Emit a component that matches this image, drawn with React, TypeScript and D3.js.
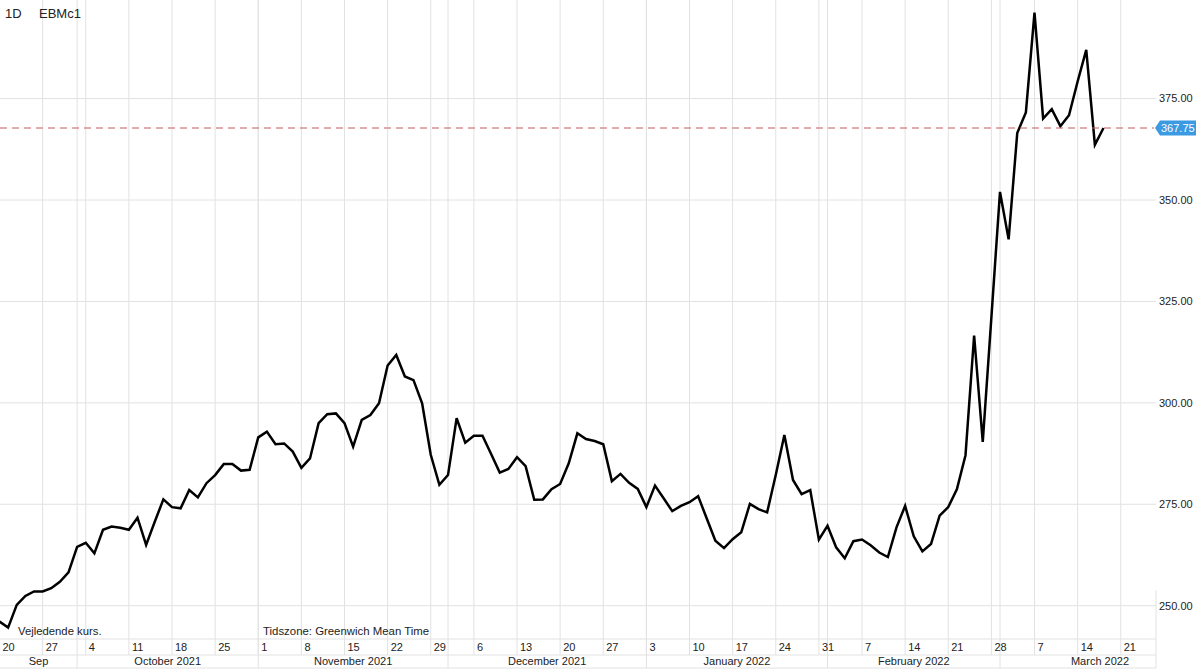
import React from "react";
import * as d3 from "d3";

// Trading-day index 0 = Mon 20 Sep 2021 (weekdays only)
const prices: number[] = [
  246.1, 244.6, 250.2, 252.4, 253.5, 253.5, 254.3, 255.9, 258.2, 264.5,
  265.5, 262.9, 268.7, 269.5, 269.2, 268.7, 271.7, 265.0, 270.7, 276.2,
  274.3, 274.0, 278.5, 276.7, 280.2, 282.2, 284.9, 284.9, 283.3, 283.5,
  291.5, 292.9, 289.8, 290.0, 288.0, 284.0, 286.3, 295.0, 297.2, 297.4,
  295.0, 289.2, 295.8, 297.0, 299.9, 309.2, 311.8, 306.5, 305.6, 299.9,
  287.2, 279.8, 282.2, 296.2, 290.2, 291.9, 291.9, 287.4, 282.8, 283.7,
  286.6, 284.4, 276.1, 276.2, 278.7, 280.0, 285.1, 292.5, 291.1, 290.6,
  289.8, 280.7, 282.5, 280.3, 278.8, 274.3, 279.6, 276.5, 273.3, 274.6,
  275.5, 277.0, 271.5, 266.0, 264.2, 266.4, 268.1, 275.1, 273.8, 273.0,
  282.2, 292.1, 281.0, 277.5, 278.5, 266.3, 269.7, 264.4, 261.7, 265.9,
  266.3, 264.9, 263.1, 262.0, 269.3, 274.6, 267.1, 263.4, 265.2, 272.2,
  274.3, 278.7, 287.1, 316.6, 290.4, 321.0, 352.0, 340.3, 366.5, 371.6,
  396.2, 370.1, 372.4, 368.2, 370.9, 379.2, 387.0, 363.6, 367.75,
];

const lastPrice = 367.75;

// Weekly (Monday) tick labels, one every 5 trading days starting at index 0
const weekLabels: string[] = [
  "20", "27", "4", "11", "18", "25", "1", "8", "15", "22", "29", "6", "13",
  "20", "27", "3", "10", "17", "24", "31", "7", "14", "21", "28", "7", "14", "21",
];

// Month start trading-day indices and labels
const monthStarts: number[] = [0, 9, 30, 52, 75, 96, 116];
const monthLabels: string[] = [
  "Sep", "October 2021", "November 2021", "December 2021",
  "January 2022", "February 2022", "March 2022",
];

const yTicks: number[] = [250, 275, 300, 325, 350, 375];

const W = 1200;
const H = 669;
const plotRight = 1156;
const plotBottom = 639;
const dayRowBottom = 655;
const monthRowBottom = 668;
const FONT = "'Liberation Sans', Arial, Helvetica, sans-serif";
const GRID = "#e2e2e2";

export default function App() {
  const x = d3.scaleLinear().domain([0, 130]).range([-0.5, 1120.75]);
  const y = d3.scaleLinear().domain([250, 375]).range([605.7, 98.6]);

  const line = d3
    .line<number>()
    .x((_, i) => x(i))
    .y((d) => y(d));

  const weekIdx = weekLabels.map((_, k) => k * 5);
  const monthEnds = monthStarts.map((s, k) =>
    k < monthStarts.length - 1 ? x(monthStarts[k + 1]) : W
  );

  const ly = y(lastPrice);

  return (
    <svg
      width={W}
      height={H}
      style={{ position: "absolute", left: 0, top: 0, background: "#fff" }}
      fontFamily={FONT}
    >
      <defs>
        <clipPath id="plotClip">
          <rect x={0} y={0} width={plotRight} height={plotBottom} />
        </clipPath>
      </defs>
      <rect x={0} y={0} width={W} height={H} fill="#fff" />

      {/* horizontal grid */}
      {yTicks.map((t) => (
        <line key={"h" + t} x1={0} x2={plotRight} y1={y(t)} y2={y(t)} stroke={GRID} strokeWidth={1} />
      ))}

      {/* vertical weekly grid (through day row) */}
      {weekIdx.map((i) => (
        <line key={"w" + i} x1={x(i)} x2={x(i)} y1={0} y2={dayRowBottom} stroke={GRID} strokeWidth={1} />
      ))}
      {/* month boundary grid lines */}
      {monthStarts.slice(1).map((i) => (
        <line key={"m" + i} x1={x(i)} x2={x(i)} y1={0} y2={monthRowBottom} stroke={GRID} strokeWidth={1} />
      ))}

      {/* axis separators */}
      <line x1={0} x2={plotRight} y1={plotBottom} y2={plotBottom} stroke={GRID} />
      <line x1={0} x2={plotRight} y1={dayRowBottom} y2={dayRowBottom} stroke={GRID} />
      <line x1={0} x2={plotRight} y1={monthRowBottom} y2={monthRowBottom} stroke={GRID} />
      <line x1={plotRight} x2={plotRight} y1={590} y2={monthRowBottom} stroke={GRID} />

      {/* price line */}
      <g clipPath="url(#plotClip)">
        <path d={line(prices) || ""} fill="none" stroke="#000" strokeWidth={2.5} strokeLinejoin="miter" />
      </g>

      {/* last price dashed line */}
      <line
        x1={0}
        x2={plotRight - 2}
        y1={ly}
        y2={ly}
        stroke="#c65a5c"
        strokeWidth={1}
        strokeDasharray="7,5"
      />

      {/* right axis labels */}
      {yTicks.map((t) => (
        <text key={"yl" + t} x={1159} y={y(t)} dy="0.35em" fontSize={11} fill="#222">
          {t.toFixed(2)}
        </text>
      ))}

      {/* last price tag */}
      <path
        d={`M${plotRight - 1},${ly} L${plotRight + 4},${ly - 7.5} L${1196},${ly - 7.5} L${1196},${ly + 7.5} L${plotRight + 4},${ly + 7.5} Z`}
        fill="#3b9ae1"
      />
      <text x={1161} y={ly} dy="0.36em" fontSize={11} fill="#fff">
        {lastPrice.toFixed(2)}
      </text>

      {/* day labels */}
      {weekIdx.map((i, k) => (
        <text key={"dl" + i} x={x(i) + 3} y={647} dy="0.35em" fontSize={11} fill="#222">
          {weekLabels[k]}
        </text>
      ))}

      {/* month labels */}
      {monthStarts.map((s, k) => (
        <text
          key={"ml" + k}
          x={(Math.max(0, x(s)) + monthEnds[k]) / 2}
          y={661.5}
          dy="0.35em"
          fontSize={11}
          fill="#222"
          textAnchor="middle"
        >
          {monthLabels[k]}
        </text>
      ))}

      {/* footer notes */}
      <text x={18} y={631.5} dy="0.35em" fontSize={11.3} fill="#222">
        Vejledende kurs.
      </text>
      <text x={263} y={631.5} dy="0.35em" fontSize={11.4} fill="#222">
        Tidszone: Greenwich Mean Time
      </text>

      {/* header */}
      <text x={5} y={13} dy="0.35em" fontSize={13} fill="#222">
        1D
      </text>
      <text x={39} y={13} dy="0.35em" fontSize={13} fill="#222">
        EBMc1
      </text>
    </svg>
  );
}
